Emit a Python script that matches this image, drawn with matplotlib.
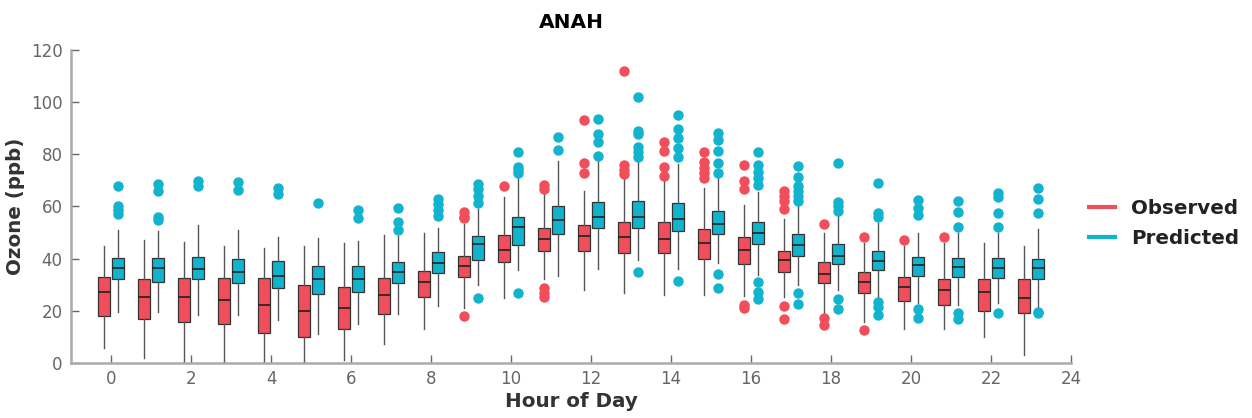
import matplotlib
matplotlib.use("Agg")
import matplotlib.pyplot as plt
from matplotlib.lines import Line2D

hours = list(range(24))

# observed: whisker low, q1, median, q3, whisker high
obs_wlo = [5.9, 1.8, 0, 0, 0, 0, 1.2, 7.2, 13, 21.2, 25.1, 32.1, 28, 27, 26.1, 26.1,
           25.8, 25.4, 17.8, 15.9, 13, 13, 10.1, 3.1]
obs_q1 = [18, 16.8, 15.9, 15, 11.6, 9.9, 12.9, 18.8, 25.2, 33.1, 38.9, 43, 43, 42.3, 42.3, 39.9,
          38, 35, 30.6, 27, 23.9, 22.3, 20, 19.1]
obs_med = [27.1, 25.2, 25.2, 24.2, 22.3, 20, 21, 26.1, 31, 37.2, 43.3, 47.4, 48.8, 48.2, 47.4, 46.1,
           43.3, 39.5, 34.1, 31.2, 29.3, 28, 27.1, 25.1]
obs_q3 = [32.9, 32.1, 32.4, 32.4, 32.4, 29.8, 29.3, 32.4, 35.3, 41, 49.1, 51.9, 52.9, 54.2, 54, 51.3,
          48.2, 43, 38.9, 35, 32.9, 32.2, 32.2, 32.2]
obs_whi = [44.9, 47.2, 46.3, 44.9, 44, 44.9, 45.9, 49.1, 50, 53.2, 63.8, 65.1, 66, 70.8, 70.2, 67,
           60.6, 55.1, 50, 45.9, 44.9, 46.1, 46.1, 44.9]
obs_out = [[], [], [], [], [], [], [], [], [],
           [57.8, 56.1, 55.5, 18], [68], [68.3, 66.6, 28.6, 26.7, 25.4],
           [93.2, 76.8, 73], [112, 75.9, 74, 72.5], [84.9, 81.3, 75, 71.8],
           [81, 77, 74.9, 73, 70.8], [75.9, 69.9, 66.6, 22.3, 21],
           [66, 64, 62.1, 58.9, 21.9, 16.8], [53.2, 17.1, 14.6], [48.2, 12.7],
           [47.2], [48.2], [], []]

# predicted
pred_wlo = [19.7, 19.7, 18.3, 18.3, 16.5, 11, 14.8, 18.7, 22, 29.9, 35.7, 33.4, 35.9, 39.5, 36, 38.2,
            33.8, 29.9, 28, 24.8, 23.1, 22.3, 22.9, 19.3]
pred_q1 = [32.1, 31.2, 32.1, 30.6, 28.6, 26.5, 27.1, 30.6, 34.4, 39.5, 45.3, 49.5, 51.7, 51.7, 50.6, 49.4,
           45.6, 41, 38, 35.7, 33.5, 32.9, 32.5, 32.2]
pred_med = [36.5, 36.4, 36.1, 34.9, 33.4, 32.1, 32.1, 34.8, 38.2, 45.5, 52, 54.9, 56.1, 56.1, 55.1, 53.3,
            50, 45.3, 41.2, 39.1, 37.6, 36.7, 36.6, 36.6]
pred_q3 = [40.1, 40.4, 40.7, 39.8, 39.1, 37.2, 37.2, 38.6, 42.4, 48.5, 55.9, 60.3, 61.9, 62.1, 61.2, 58.3,
           54.2, 49.5, 45.5, 43.1, 40.8, 40.1, 40.1, 39.9]
pred_whi = [51, 50.6, 52.9, 51, 48.4, 47.8, 46.8, 48.8, 51.9, 59.1, 72.1, 77.6, 79.4, 77.2, 76.2, 72.1,
            65.7, 60.8, 56.8, 53.8, 50, 50, 50, 51.3]
pred_out = [[68, 60.3, 58.7, 57.1], [68.7, 66.1, 56.1, 54.9], [69.9, 67.9], [69.5, 66.3],
            [67, 64.8], [61.5], [58.7, 55.5], [59.3, 54.2, 51], [62.8, 60.9, 58.7, 56.5],
            [68.5, 66.6, 64.2, 61.5, 25.1], [80.7, 75.3, 74, 72.7, 26.7], [86.8, 81.7],
            [93.4, 87.7, 84.6, 79.5], [101.9, 89, 87.8, 83, 81, 79.1, 34.8],
            [94.9, 89.7, 86.2, 82.3, 78.9, 31.6], [88, 85.5, 81.3, 76.8, 73, 34, 28.9],
            [80.8, 75.9, 73.4, 70.8, 68.3, 31, 27.1, 24.4],
            [75.7, 71.2, 68, 66, 64.2, 62.1, 26.7, 22.5], [76.6, 61.9, 60, 58.3, 24.4, 20.6],
            [68.9, 57.4, 56.1, 23.5, 21.4, 18.4], [62.5, 59.3, 56.8, 20.7, 17.1],
            [62.1, 58, 52, 19.3, 16.8], [65.3, 63.5, 57.4, 52, 19.3], [67, 62.8, 57.4, 19.7, 19.3]]

obs_color = '#F04E5A'
pred_color = '#12B4CD'


def make_stats(wlo, q1, med, q3, whi, out):
    stats = []
    for i in range(len(med)):
        stats.append(dict(whislo=wlo[i], q1=q1[i], med=med[i], q3=q3[i], whishi=whi[i], fliers=out[i]))
    return stats


def draw(ax, stats, positions, color):
    ax.bxp(stats, positions=positions, widths=0.3, patch_artist=True, showcaps=False,
           boxprops=dict(facecolor=color, edgecolor='#333333', linewidth=0.9),
           medianprops=dict(color='#222222', linewidth=1.2),
           whiskerprops=dict(color='#555555', linewidth=1.0),
           flierprops=dict(marker='o', markerfacecolor=color, markeredgecolor=color,
                           markersize=6.5, linestyle='none'))


fig = plt.figure(figsize=(12.52, 4.18), dpi=100)
ax = fig.add_axes([0.0567, 0.1316, 0.7988, 0.7488])

draw(ax, make_stats(obs_wlo, obs_q1, obs_med, obs_q3, obs_whi, obs_out),
     [h - 0.17 for h in hours], obs_color)
draw(ax, make_stats(pred_wlo, pred_q1, pred_med, pred_q3, pred_whi, pred_out),
     [h + 0.18 for h in hours], pred_color)

ax.set_xlim(-1, 24)
ax.set_ylim(0, 120)
ax.set_xticks(range(0, 25, 2))
ax.set_xticklabels([str(t) for t in range(0, 25, 2)])
ax.set_yticks(range(0, 121, 20))

for side in ['top', 'right']:
    ax.spines[side].set_visible(False)
for side in ['left', 'bottom']:
    ax.spines[side].set_color('#aaaaaa')
    ax.spines[side].set_linewidth(1.8)

ax.tick_params(axis='both', direction='in', colors='#666666', labelsize=12, length=6, width=1)
ax.tick_params(axis='y', pad=6)
ax.tick_params(axis='x', pad=5)

ax.set_title('ANAH', fontsize=14.5, fontweight='bold', pad=16)
ax.set_xlabel('Hour of Day', fontsize=14.3, fontweight='bold', color='#333333', labelpad=3)
ax.set_ylabel('Ozone (ppb)', fontsize=14.3, fontweight='bold', color='#333333', labelpad=4)

handles = [Line2D([], [], color=obs_color, linewidth=3),
           Line2D([], [], color=pred_color, linewidth=3)]
leg = ax.legend(handles, ['Observed', 'Predicted'], loc='center left', bbox_to_anchor=(1.0, 0.447),
                frameon=False, prop=dict(size=14.3, weight='bold'), handlelength=1.3,
                handletextpad=0.8, labelspacing=0.55, borderaxespad=0.5)
for t in leg.get_texts():
    t.set_color('#222222')

fig.savefig('out.png', dpi=100)
